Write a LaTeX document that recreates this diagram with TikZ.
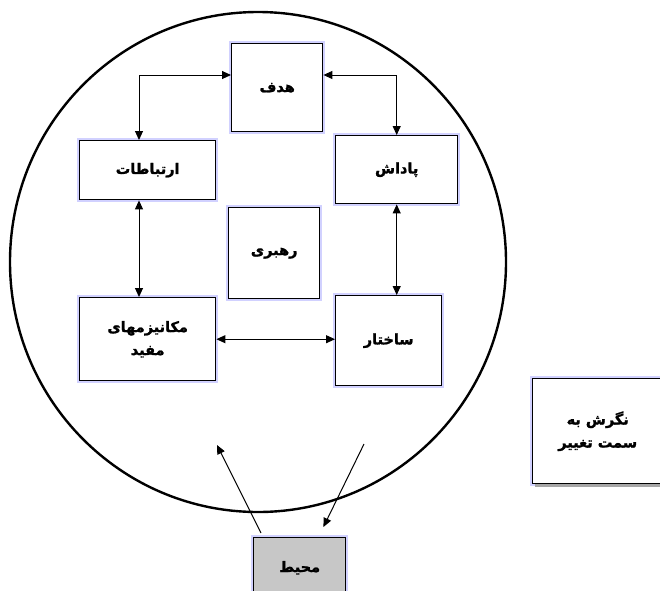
\documentclass[tikz,border=0pt]{standalone}
\usepackage{fontspec}
\newfontfamily\arabicfont[Script=Arabic, BoldFont={DejaVu Sans Bold}, BoldFeatures={FakeBold=1.5}]{DejaVu Sans}
\TeXXeTstate=1
\usetikzlibrary{arrows.meta,calc}
\begin{document}
\begin{tikzpicture}[x=1pt,y=-1pt,
  box/.style={draw=black, line width=1.4pt, fill=white, inner sep=0pt, anchor=north west,
    font=\arabicfont\bfseries\fontsize{14.5}{23}\selectfont, align=center,
    preaction={draw=blue!18, line width=4.5pt}},
  link/.style={line width=1pt, {Triangle[length=9pt,width=8pt]}-{Triangle[length=9pt,width=8pt]}},
  oneway/.style={line width=1pt, -{Triangle[length=9pt,width=8pt]}}]
\useasboundingbox (0,0) rectangle (660,590);
\fill[white] (0,0) rectangle (660,590);
\draw[line width=2.4pt] (258,262) ellipse [x radius=248, y radius=250];
\node[box, minimum width=91pt, minimum height=88pt] (hadaf) at (231,43) {\beginR هدف\endR};
\node[box, minimum width=136pt, minimum height=59pt] (ertebatat) at (79,140) {\beginR ارتباطات\endR};
\node[box, minimum width=122pt, minimum height=68pt] (padash) at (335,135) {\beginR پاداش\endR};
\node[box, minimum width=91pt, minimum height=91pt] (rahbari) at (228,207) {\beginR رهبری\endR};
\node[box, minimum width=136pt, minimum height=83pt] (mek) at (79,297) {\beginR مکانیزمهای\endR\\\beginR مفید\endR};
\node[box, minimum width=106pt, minimum height=90pt] (sakhtar) at (335,295) {\beginR ساختار\endR};
\node[box, preaction={fill=black!35, transform canvas={shift={(2pt,-3pt)}}}, minimum width=130pt, minimum height=105pt] (negaresh) at (532,378) {\beginR نگرش به\endR\\\beginR سمت تغییر\endR};
\node[box, preaction={}, fill=black!22, minimum width=92pt, minimum height=60pt] (mohit) at (253,537) {\beginR محیط\endR};
\draw[link] ($(hadaf.north west)+(0,32)$) -| ($(ertebatat.north west)+(60,0)$);
\draw[link] ($(hadaf.north east)+(0,32)$) -| (padash.north);
\draw[link] ($(ertebatat.south west)+(60,0)$) -- ($(mek.north west)+(60,0)$);
\draw[link] (padash.south) -- (padash.south |- sakhtar.north);
\draw[link] (mek.east) -- (mek.east -| sakhtar.west);
\coordinate (upend) at (217,445);
\coordinate (downstart) at (364,444);
\draw[oneway] ($(mohit.north west)+(8,-4)$) -- (upend);
\draw[oneway] (downstart) -- ($(mohit.north east)+(-23,-10)$);
\end{tikzpicture}
\end{document}
